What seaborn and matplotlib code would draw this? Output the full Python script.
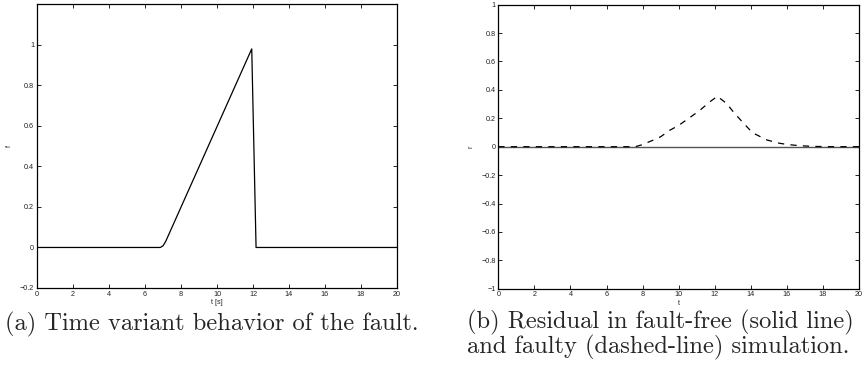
import numpy as np
import pandas as pd
import matplotlib
matplotlib.use("Agg")
import matplotlib.pyplot as plt
import seaborn as sns

# Fault signal f(t): zero, ramp from ~7 s to ~12 s, then drop back to zero
t_fault = [0.0, 6.85, 7.0, 7.15, 11.93, 12.17, 20.0]
f_fault = [0.0, 0.0, 0.008, 0.03, 0.98, 0.0, 0.0]

# Residual r(t) for the fault-free run
t_free = [0.0, 20.0]
r_free = [0.0, 0.0]

# Residual r(t) for the faulty run
t_faulty = [0.0, 7.6, 8.0, 8.6, 9.0, 9.5, 10.0, 10.45, 11.0, 11.2, 11.75, 12.15,
            12.65, 13.1, 13.6, 14.1, 14.9, 15.6, 16.0, 16.7, 17.5, 18.5, 20.0]
r_faulty = [0.0, 0.0, 0.015, 0.047, 0.07, 0.115, 0.15, 0.19, 0.24, 0.259, 0.318, 0.355,
            0.305, 0.235, 0.165, 0.098, 0.047, 0.024, 0.016, 0.007, 0.002, 0.0, 0.0]

xticks = list(range(0, 21, 2))
yticks_a = [-0.2, 0.0, 0.2, 0.4, 0.6, 0.8, 1.0]
yticks_b = [-1.0, -0.8, -0.6, -0.4, -0.2, 0.0, 0.2, 0.4, 0.6, 0.8, 1.0]

caption_a = "(a) Time variant behavior of the fault."
caption_b = "(b) Residual in fault-free (solid line)\nand faulty (dashed-line) simulation."

sns.set_style("ticks")
plt.rcParams["font.family"] = ["Liberation Sans", "DejaVu Sans"]

W, H = 865, 385
fig = plt.figure(figsize=(W / 100, H / 100), dpi=100)


def box(l, t, r, b):
    return [l / W, 1 - b / H, (r - l) / W, (b - t) / H]


ax_a = fig.add_axes(box(37, 4.3, 397, 288))
ax_b = fig.add_axes(box(498.3, 4.7, 859, 288.7))

df_a = pd.DataFrame({"t": t_fault, "f": f_fault})
sns.lineplot(data=df_a, x="t", y="f", ax=ax_a, color="black", linewidth=0.9,
             estimator=None, sort=False)

df_free = pd.DataFrame({"t": t_free, "r": r_free})
df_faulty = pd.DataFrame({"t": t_faulty, "r": r_faulty})
sns.lineplot(data=df_free, x="t", y="r", ax=ax_b, color="#555555", linewidth=1.0,
             estimator=None, sort=False)
sns.lineplot(data=df_faulty, x="t", y="r", ax=ax_b, color="black", linewidth=0.9,
             estimator=None, sort=False, linestyle=(0, (5, 5)))

tick_fs = 5.2
for ax, yt, ylim in ((ax_a, yticks_a, (-0.2, 1.2)), (ax_b, yticks_b, (-1.0, 1.0))):
    ax.set_xlim(0, 20)
    ax.set_ylim(*ylim)
    ax.set_xticks(xticks)
    ax.set_yticks(yt)
    ax.set_xticklabels([str(v) for v in xticks])
    ax.set_yticklabels([("\u2212" if v < 0 else "") + f"{abs(v):g}" for v in yt])
    ax.tick_params(direction="in", length=3, width=0.6, labelsize=tick_fs, pad=2,
                   top=True, right=True, colors="black", labelcolor="#222222")
    for s in ax.spines.values():
        s.set_visible(True)
        s.set_linewidth(0.9)
        s.set_color("black")

ax_a.set_xlabel("t [s]", fontsize=tick_fs, labelpad=1)
ax_a.set_ylabel("f", fontsize=tick_fs, labelpad=5)
ax_b.set_xlabel("t", fontsize=tick_fs, labelpad=1)
ax_b.set_ylabel("r", fontsize=tick_fs, labelpad=5)

serif = ["cmr10", "DejaVu Serif"]
cap_fs = 17.6
fig.text(5 / W, 1 - 324 / H, caption_a, ha="left", va="center",
         fontsize=cap_fs, family=serif)
fig.text(467 / W, 1 - 335 / H, caption_b, ha="left", va="center",
         fontsize=cap_fs, family=serif, linespacing=0.95)

fig.savefig("out.png", dpi=100)
